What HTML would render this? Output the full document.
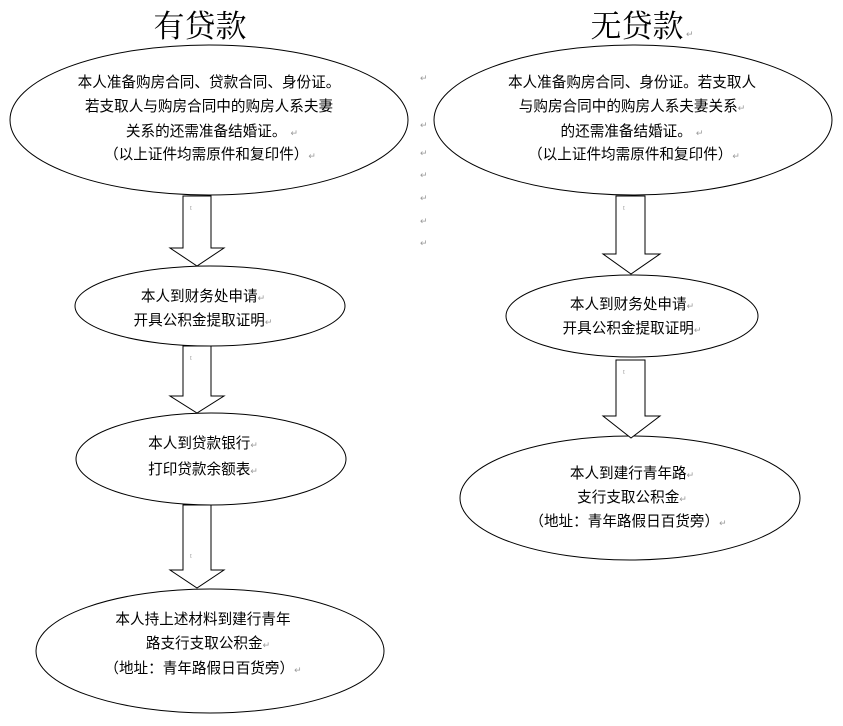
<!DOCTYPE html>
<html><head><meta charset="utf-8"><style>
html,body{margin:0;padding:0;background:#fff;}
svg{display:block;}
text{font-family:"Liberation Sans","Noto Sans CJK SC",sans-serif;font-size:14.6px;fill:#000;}
.t{font-family:"Liberation Serif","Noto Serif CJK SC",serif;font-size:31px;}
.r{fill:#999;font-size:9px;}
</style></head><body>
<svg width="843" height="726" viewBox="0 0 843 726" xmlns="http://www.w3.org/2000/svg">
<text class="t" x="200" y="37" text-anchor="middle">有贷款</text>
<text class="t" x="637" y="37" text-anchor="middle">无贷款</text>
<text class="r" x="686" y="37">↵</text>
<g fill="#fff" stroke="#000" stroke-width="1">
<ellipse cx="209" cy="120" rx="199" ry="75"/>
<ellipse cx="210" cy="306" rx="135" ry="40"/>
<ellipse cx="211" cy="459" rx="135" ry="46"/>
<ellipse cx="210" cy="651" rx="174" ry="62"/>
<ellipse cx="633" cy="120" rx="199" ry="75"/>
<ellipse cx="632" cy="316" rx="126" ry="41"/>
<ellipse cx="630" cy="498" rx="170" ry="62"/>
<polygon points="183,196 211,196 211,248 224,248 197,266 170,248 183,248"/>
<polygon points="183,346 211,346 211,396 224,396 197,413 170,396 183,396"/>
<polygon points="183,505 211,505 211,570 224,570 197,588 170,570 183,570"/>
<polygon points="616,196 645,196 645,254 660,254 631,274 603,254 616,254"/>
<polygon points="616,360 645,360 645,416 660,416 631,438 603,416 616,416"/>
</g>
<g text-anchor="middle">
<text x="209" y="87">本人准备购房合同、贷款合同、身份证。</text>
<text x="209" y="111">若支取人与购房合同中的购房人系夫妻</text>
<text x="212" y="136">关系的还需准备结婚证。 <tspan class="r">↵</tspan></text>
<text x="210" y="159">（以上证件均需原件和复印件）<tspan class="r">↵</tspan></text>
<text x="203" y="301">本人到财务处申请<tspan class="r">↵</tspan></text>
<text x="203" y="325">开具公积金提取证明<tspan class="r">↵</tspan></text>
<text x="203" y="448">本人到贷款银行<tspan class="r">↵</tspan></text>
<text x="203" y="474">打印贷款余额表<tspan class="r">↵</tspan></text>
<text x="203" y="624">本人持上述材料到建行青年</text>
<text x="208" y="648">路支行支取公积金<tspan class="r">↵</tspan></text>
<text x="203" y="673">（地址：青年路假日百货旁）<tspan class="r">↵</tspan></text>
<text x="632" y="87">本人准备购房合同、身份证。若支取人</text>
<text x="632" y="111">与购房合同中的购房人系夫妻关系<tspan class="r">↵</tspan></text>
<text x="632" y="136">的还需准备结婚证。 <tspan class="r">↵</tspan></text>
<text x="634" y="159">（以上证件均需原件和复印件）<tspan class="r">↵</tspan></text>
<text x="632" y="309">本人到财务处申请<tspan class="r">↵</tspan></text>
<text x="632" y="333">开具公积金提取证明<tspan class="r">↵</tspan></text>
<text x="632" y="478">本人到建行青年路<tspan class="r">↵</tspan></text>
<text x="632" y="502">支行支取公积金<tspan class="r">↵</tspan></text>
<text x="628" y="526">（地址：青年路假日百货旁）<tspan class="r">↵</tspan></text>
</g>
<g>
<text class="r" x="420" y="81">↵</text><text class="r" x="420" y="128">↵</text>
<text class="r" x="420" y="156">↵</text><text class="r" x="420" y="178">↵</text>
<text class="r" x="420" y="201">↵</text><text class="r" x="420" y="224">↵</text>
<text class="r" x="420" y="246">↵</text>
<text class="r" x="190" y="212">ᵗ</text><text class="r" x="190" y="362">ᵗ</text><text class="r" x="190" y="560">ᵗ</text>
<text class="r" x="623" y="212">ᵗ</text><text class="r" x="623" y="376">ᵗ</text>
</g>
</svg>
</body></html>
